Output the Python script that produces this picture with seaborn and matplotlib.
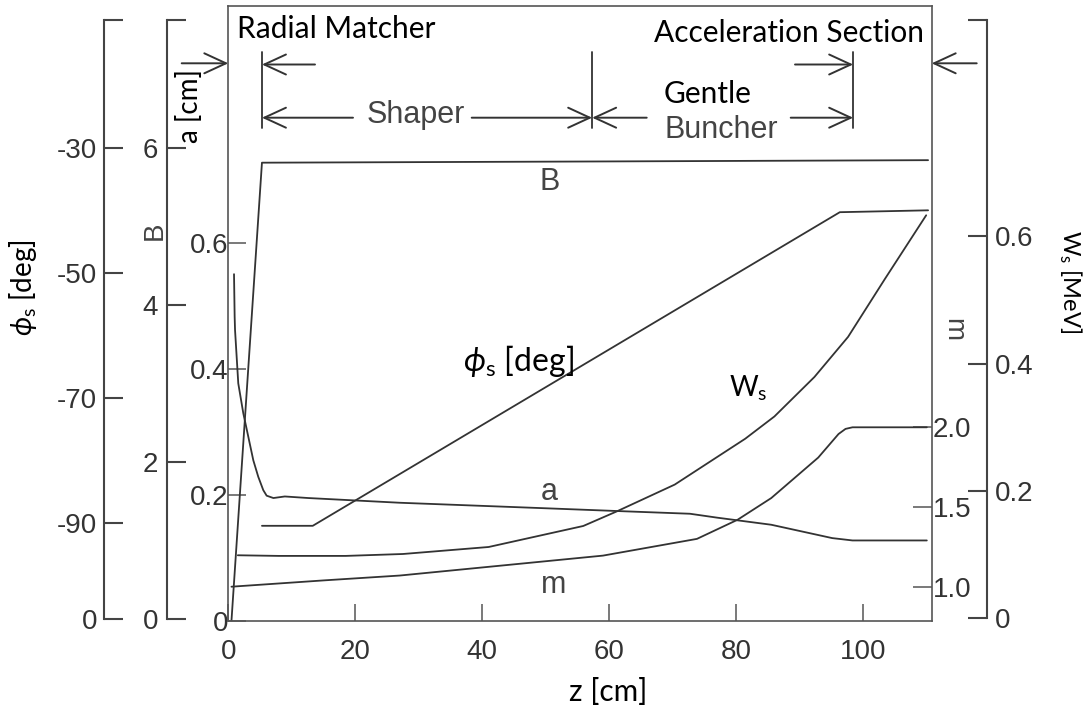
import numpy as np
import pandas as pd
import matplotlib
matplotlib.use("Agg")
import matplotlib.pyplot as plt
import seaborn as sns

# ---------------- data ----------------
z_B = [0.5, 5.3, 60.0, 110.2]
B_vals = [0.0, 0.727, 0.729, 0.731]

z_phi = [5.3, 13.3, 96.3, 110.2]
phi_vals = [-90.4, -90.4, -40.3, -40.0]

z_a = [0.9, 1.0, 1.06, 1.57, 2.36, 3.15, 3.94, 4.72, 5.51, 6.04, 7.1, 8.9, 12.6, 27.0,
       49.9, 61.1, 72.7, 77.0, 85.5, 95.1, 98.3, 110.0]
a_vals = [4.39, 3.85, 3.68, 3.00, 2.62, 2.32, 2.02, 1.81, 1.64, 1.57, 1.54, 1.56, 1.54, 1.48,
          1.41, 1.375, 1.34, 1.29, 1.20, 1.03, 1.00, 1.00]

z_m = [0.5, 15.2, 27.0, 59.0, 73.8, 80.2, 85.5, 92.9, 96.1, 97.2, 98.3, 110.0]
m_vals = [1.00, 1.04, 1.07, 1.195, 1.30, 1.42, 1.556, 1.81, 1.958, 1.99, 2.00, 2.00]

z_W = [1.5, 7.9, 18.5, 27.5, 41.0, 55.9, 61.2, 70.3, 81.4, 86.0, 92.3, 97.6, 103.4, 109.9]
W_vals = [0.099, 0.098, 0.098, 0.101, 0.112, 0.145, 0.168, 0.210, 0.282, 0.317, 0.379, 0.442, 0.533, 0.633]

section_bounds = [5.3, 57.3, 98.4]          # z [cm] of section boundaries

x_ticks = [0, 20, 40, 60, 80, 100]
B_ticks = [0, 0.2, 0.4, 0.6]
m_ticks = [1.0, 1.5, 2.0]
m_ticklabels = ["1.0", "1.5", "2.0"]
a_ticks = [0, 2, 4, 6]
phi_ticks = [-90, -70, -50, -30]
W_ticks = [0, 0.2, 0.4, 0.6]

# ---------------- style ----------------
sns.set_theme(style="white")
plt.rcParams["font.family"] = ["Liberation Sans", "DejaVu Sans"]
plt.rcParams["mathtext.fontset"] = "custom"
plt.rcParams["mathtext.rm"] = "Lato"
plt.rcParams["mathtext.it"] = "Lato:italic"

LINE = "#333333"
SPINE = "#555555"
TXT = "#333333"
CAL = ["Lato", "DejaVu Sans"]
HEL = ["Liberation Sans", "DejaVu Sans"]
LW = 1.3
YTS = 20

W_PX, H_PX = 1088, 717
fig = plt.figure(figsize=(W_PX / 100, H_PX / 100), dpi=100)
L, R, T, Bm = 228.3, 931.7, 6.0, 620.7
ax = fig.add_axes([L / W_PX, 1 - Bm / H_PX, (R - L) / W_PX, (Bm - T) / H_PX])

def fx(px):
    return px / W_PX

def fy(py):
    return 1 - py / H_PX

def yfrac(py):
    return (Bm - py) / (Bm - T)

def zpx(px):
    return (px - L) / 6.35

# ---- main axes: z and B ----
dfB = pd.DataFrame({"z": z_B, "B": B_vals})
sns.lineplot(data=dfB, x="z", y="B", ax=ax, color=LINE, lw=LW, estimator=None, sort=False)
ax.set_xlim(0, 110.77)
ax.set_ylim(0, 0.9757)
ax.set_xticks(x_ticks)
ax.set_xticklabels([str(v) for v in x_ticks])
ax.set_yticks(B_ticks)
ax.set_yticklabels(["0", "0.2", "0.4", "0.6"])
ax.set_xlabel("")
ax.set_ylabel("")
for s in ax.spines.values():
    s.set_color(SPINE)
    s.set_linewidth(1.2)
ax.tick_params(axis="x", direction="in", length=12, width=1.1, color=SPINE,
               labelsize=20, labelcolor=TXT, pad=13, bottom=True)
ax.tick_params(axis="y", direction="in", length=13, width=1.1, color=SPINE,
               labelsize=YTS, labelcolor=TXT, pad=0, left=True)

def bracket_axis(side, pos):
    t = ax.twinx()
    for nm, s in t.spines.items():
        s.set_visible(False)
    sp = t.spines[side]
    sp.set_visible(True)
    sp.set_position(("axes", pos))
    sp.set_color("#444444")
    sp.set_linewidth(1.5)
    t.yaxis.set_ticks_position(side)
    t.yaxis.set_label_position(side)
    t.set_ylabel("")
    return t

# ---- m axis (right frame) ----
ax_m = ax.twinx()
for s in ax_m.spines.values():
    s.set_visible(False)
dfm = pd.DataFrame({"z": z_m, "m": m_vals})
sns.lineplot(data=dfm, x="z", y="m", ax=ax_m, color=LINE, lw=LW, estimator=None, sort=False)
ax_m.set_ylim(0.7867, 4.643)
ax_m.set_yticks(m_ticks)
ax_m.set_yticklabels(m_ticklabels)
ax_m.set_ylabel("")
ax_m.tick_params(axis="y", direction="in", length=14, width=1.1, color=SPINE,
                 labelsize=YTS, labelcolor=TXT, pad=1, right=True)

# ---- a axis ----
ax_a = bracket_axis("left", (166.7 - L) / (R - L))
dfa = pd.DataFrame({"z": z_a, "a": a_vals})
sns.lineplot(data=dfa, x="z", y="a", ax=ax_a, color=LINE, lw=LW, estimator=None, sort=False)
a_top = 7.626
ax_a.set_ylim(-0.0216, 7.804)
ax_a.spines["left"].set_bounds(0, a_top)
ax_a.set_yticks(a_ticks + [a_top])
ax_a.set_yticklabels([str(v) for v in a_ticks] + [""])
ax_a.set_ylabel("")
ax_a.tick_params(axis="y", direction="in", length=14, width=1.5, color="#444444",
                 labelsize=YTS, labelcolor=TXT, pad=6, left=True)

# ---- phi axis ----
ax_p = bracket_axis("left", (104.3 - L) / (R - L))
dfp = pd.DataFrame({"z": z_phi, "phi": phi_vals})
sns.lineplot(data=dfp, x="z", y="phi", ax=ax_p, color=LINE, lw=LW, estimator=None, sort=False)
p_lo, p_hi = -105.29, -9.6
ax_p.set_ylim(-105.56, -7.36)
ax_p.spines["left"].set_bounds(p_lo, p_hi)
ax_p.set_yticks([p_lo] + phi_ticks + [p_hi])
ax_p.set_yticklabels(["0"] + [str(v) for v in phi_ticks] + [""])
ax_p.set_ylabel("")
ax_p.tick_params(axis="y", direction="in", length=14, width=1.5, color="#444444",
                 labelsize=YTS, labelcolor=TXT, pad=5, left=True)

# ---- Ws axis ----
ax_w = bracket_axis("right", (986.7 - L) / (R - L))
dfw = pd.DataFrame({"z": z_W, "W": W_vals})
sns.lineplot(data=dfw, x="z", y="W", ax=ax_w, color=LINE, lw=LW, estimator=None, sort=False)
w_top = 0.94
ax_w.set_ylim(-0.00377, 0.9617)
ax_w.spines["right"].set_bounds(0, w_top)
ax_w.set_yticks(W_ticks + [w_top])
ax_w.set_yticklabels(["0", "0.2", "0.4", "0.6", ""])
ax_w.set_ylabel("")
ax_w.tick_params(axis="y", direction="in", length=14, width=1.5, color="#444444",
                 labelsize=YTS, labelcolor=TXT, pad=6, right=True)

for t in (ax_m, ax_a, ax_p, ax_w):
    t.set_xlim(ax.get_xlim())

# ---------------- section markers ----------------
ARW = dict(arrowstyle="->,head_length=1.3,head_width=0.6", color="#333333", lw=1.4,
           shrinkA=0, shrinkB=0)
xy = ("data", "axes fraction")
y1, y2 = yfrac(64.5), yfrac(117.7)
arrows = [
    (zpx(181.7), 0.0, yfrac(63.3)),
    (zpx(976.7), 110.77, yfrac(63.3)),
    (zpx(315), section_bounds[0], y1),
    (zpx(795), section_bounds[2], y1),
    (zpx(353), section_bounds[0], y2),
    (zpx(471.7), section_bounds[1], y2),
    (zpx(646.7), section_bounds[1], y2),
    (zpx(790.7), section_bounds[2], y2),
]
for z0, z1, yy in arrows:
    ax.annotate("", xy=(z1, yy), xytext=(z0, yy), xycoords=xy, textcoords=xy,
                arrowprops=ARW, annotation_clip=False)
for zb in section_bounds:
    ax.plot([zb, zb], [yfrac(51.7), yfrac(128.3)], color="#333333", lw=1.3,
            transform=ax.get_xaxis_transform(), clip_on=False)

# ---------------- texts ----------------
CS = 21.5
HS = 22
fig.text(fx(237), fy(38), "Radial Matcher", family=CAL, fontsize=CS, color="black",
         ha="left", va="baseline")
fig.text(fx(788.5), fy(41.7), "Acceleration Section", family=CAL, fontsize=CS, color="black",
         ha="center", va="baseline")
fig.text(fx(416), fy(123.5), "Shaper", family=HEL, fontsize=HS, color="#444444",
         ha="center", va="baseline")
fig.text(fx(707.5), fy(103.3), "Gentle", family=CAL, fontsize=CS, color="black",
         ha="center", va="baseline")
fig.text(fx(721), fy(138.3), "Buncher", family=HEL, fontsize=HS, color="#444444",
         ha="center", va="baseline")
fig.text(fx(550), fy(190), "B", family=HEL, fontsize=HS, color="#444444",
         ha="center", va="baseline")
fig.text(fx(549.3), fy(500.5), "a", family=HEL, fontsize=HS, color="#444444",
         ha="center", va="baseline")
fig.text(fx(553.5), fy(592.6), "m", family=HEL, fontsize=HS, color="#444444",
         ha="center", va="baseline")
fig.text(fx(748), fy(396.7), r"W$_\mathrm{s}$", family=CAL, fontsize=20, color="black",
         ha="center", va="baseline")
fig.text(fx(518), fy(371), r"$\phi_\mathrm{s}$ [deg]", family=CAL, fontsize=23, color="black",
         ha="center", va="baseline")
fig.text(fx(608), fy(701), "z [cm]", family=CAL, fontsize=CS, color="black",
         ha="center", va="baseline")
fig.text(fx(23), fy(288), r"$\phi_\mathrm{s}$ [deg]", family=CAL, fontsize=20, color="black",
         ha="center", va="center", rotation=90)
fig.text(fx(155), fy(231), "B", family=HEL, fontsize=20, color="#444444",
         ha="center", va="center", rotation=90)
fig.text(fx(190), fy(106), "a [cm]", family=CAL, fontsize=20, color="black",
         ha="center", va="center", rotation=90)
fig.text(fx(953), fy(330), "m", family=HEL, fontsize=20, color="#444444",
         ha="center", va="center", rotation=-90)
fig.text(fx(1070), fy(282), r"W$_\mathrm{s}$ [MeV]", family=CAL, fontsize=17, color="black",
         ha="center", va="center", rotation=-90)

fig.savefig("out.png", dpi=100)
